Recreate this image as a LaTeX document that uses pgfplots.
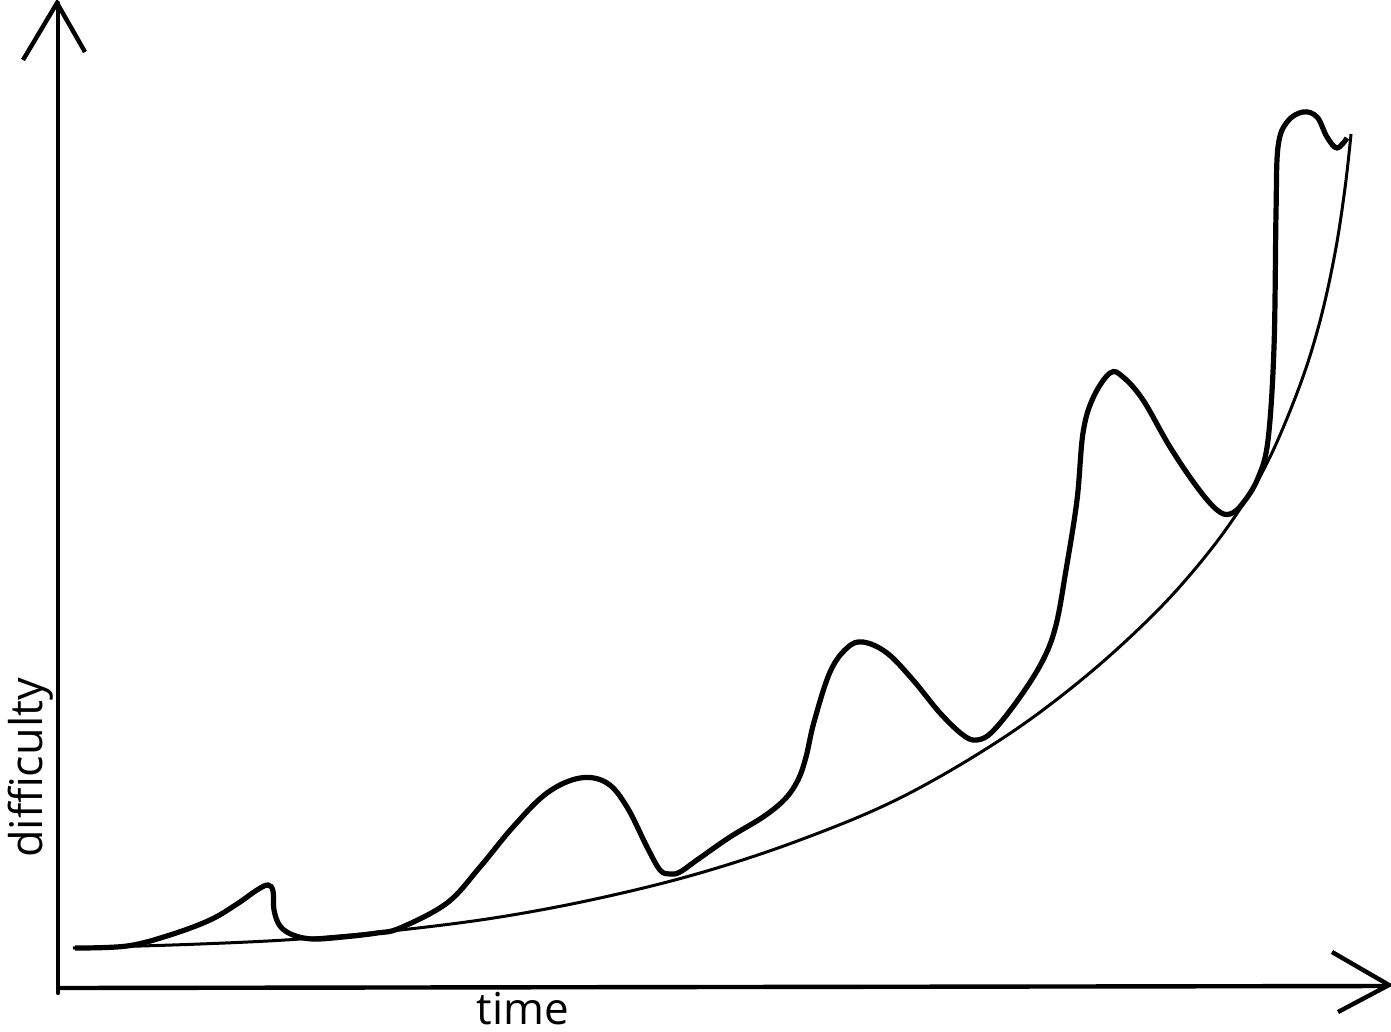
\documentclass[border=0pt]{standalone}
\usepackage{pgfplots}
\pgfplotsset{compat=1.18}
\usepackage{fontspec}
\setmainfont{Open Sans}
\begin{document}
\begin{tikzpicture}
\begin{axis}[
  x=0.5pt, y=0.5pt,
  xmin=0, xmax=1391, ymin=0, ymax=1032,
  y dir=reverse,
  hide axis, clip=false,
]
% axes
\addplot[black, line width=2.2pt, line cap=round] coordinates {(58,993) (58,3)};
\addplot[black, line width=2.2pt, line join=miter] coordinates {(23,60) (57,3) (85,52)};
\addplot[black, line width=2.2pt] coordinates {(58,988) (1388,986)};
\addplot[black, line width=2.2pt, line join=miter] coordinates {(1332,952) (1389,985) (1338,1012)};
% baseline curve
\addplot[black, line width=1.5pt, smooth, tension=0.6] coordinates {
(73,948) (200,944) (300,939) (400,930) (500,917) (600,898) (700,873) (800,840)
(900,798) (1000,740) (1080,681) (1150,618) (1200,563) (1240,509) (1270,457)
(1300,385) (1320,321) (1335,253) (1345,188) (1351,134)};
% wavy curve
\addplot[black, line width=2.6pt, smooth, tension=0.6] coordinates {
(75,948) (127,946) (170,935) (210,920) (237,904) (257,890) (268,885) (273,891)
(274,910) (280,926) (293,935) (313,939) (343,937) (377,933) (400,928) (447,903)
(480,867) (513,827) (547,793) (580,778) (607,783) (627,807) (647,847) (660,870)
(670,874) (680,872) (697,860) (730,837) (763,817) (785,799) (798,780) (806,757) (814,722)
(830,672) (847,648) (863,642) (887,653) (913,680) (940,713) (963,735) (977,740)
(993,731) (1020,697) (1043,660) (1056,625) (1066,570) (1077,500) (1083,433)
(1093,398) (1110,373) (1123,377) (1143,400) (1170,447) (1197,487) (1217,510)
(1230,514) (1243,503) (1258,478) (1268,440) (1274,347) (1276,213) (1278,147)
(1287,122) (1303,112) (1317,117) (1327,137) (1337,148) (1347,138)};
\node[anchor=base, inner sep=0pt, font=\fontsize{22}{26}\selectfont] at (axis cs:523,1024) {time};
\node[anchor=base, inner sep=0pt, rotate=90, font=\fontsize{22.5}{26}\selectfont] at (axis cs:43,768) {difficulty};
\coordinate (BL) at (axis cs:0,1032);
\coordinate (TR) at (axis cs:1391,0);
\end{axis}
\pgfresetboundingbox
\path[use as bounding box] (BL) rectangle (TR);
\end{tikzpicture}
\end{document}
